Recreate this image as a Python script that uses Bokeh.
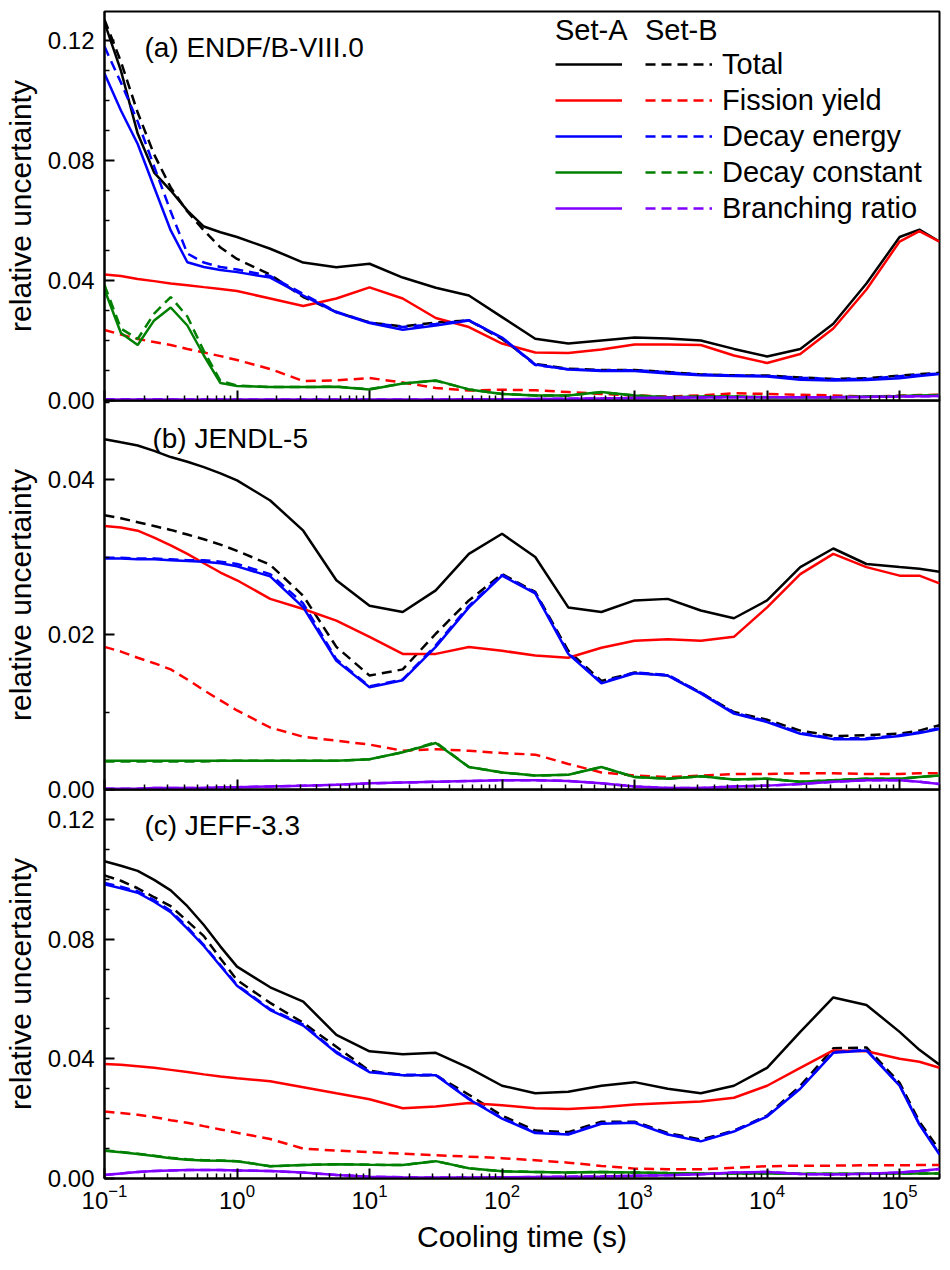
from bokeh.plotting import figure
from bokeh.models import (Range1d, FixedTicker, LogTickFormatter, PrintfTickFormatter,
                          Legend, LegendItem, Label)
from bokeh.layouts import column
from bokeh.embed import file_html
from bokeh.resources import INLINE

FONT = "Liberation Sans"

# ---------------- data ----------------
cooling_time = [0.1, 0.133, 0.178, 0.237, 0.316, 0.422, 0.562, 0.75, 1.0, 1.78, 3.16, 5.62,
                10.0, 17.8, 31.6, 56.2, 100.0, 178.0, 316.0, 562.0, 1000.0, 1780.0, 3160.0,
                5620.0, 1.0e4, 1.78e4, 3.16e4, 5.62e4, 1.0e5, 1.41e5, 2.0e5]

components = ["Total", "Fission yield", "Decay energy", "Decay constant", "Branching ratio"]
colors = ["#000000", "#FF0000", "#0000FF", "#008000", "#8000FF"]

# (a) ENDF/B-VIII.0
a_total_A = [0.126, 0.110, 0.089, 0.076, 0.070, 0.0633, 0.058, 0.0561, 0.0545, 0.0506, 0.046, 0.0444, 0.0456, 0.041, 0.0376, 0.035, 0.0278, 0.0206, 0.019, 0.020, 0.021, 0.0207, 0.020, 0.0172, 0.0147, 0.0172, 0.0256, 0.039, 0.0545, 0.057, 0.053]
a_total_B = [0.127, 0.113, 0.096, 0.082, 0.071, 0.063, 0.0567, 0.051, 0.0472, 0.042, 0.0345, 0.0295, 0.026, 0.0247, 0.026, 0.0267, 0.0205, 0.0122, 0.0106, 0.0102, 0.0102, 0.0095, 0.0087, 0.0084, 0.0083, 0.0077, 0.0072, 0.0074, 0.0083, 0.0088, 0.0092]
a_fy_A = [0.042, 0.0415, 0.0405, 0.0398, 0.039, 0.0384, 0.0378, 0.0372, 0.0365, 0.034, 0.0315, 0.034, 0.0377, 0.034, 0.0275, 0.0245, 0.019, 0.016, 0.0158, 0.017, 0.0187, 0.0187, 0.0185, 0.015, 0.0125, 0.0155, 0.024, 0.037, 0.053, 0.0565, 0.053]
a_fy_B = [0.0235, 0.022, 0.0205, 0.0195, 0.0185, 0.0172, 0.016, 0.0148, 0.0135, 0.0105, 0.0065, 0.0067, 0.0075, 0.006, 0.0042, 0.0033, 0.0036, 0.0034, 0.0028, 0.0022, 0.0017, 0.0013, 0.0017, 0.0024, 0.0022, 0.0019, 0.0017, 0.0013, 0.0016, 0.0018, 0.0019]
a_de_A = [0.109, 0.0967, 0.0855, 0.0711, 0.0567, 0.0461, 0.0445, 0.0435, 0.0428, 0.041, 0.035, 0.0294, 0.0258, 0.0236, 0.025, 0.0267, 0.021, 0.012, 0.0103, 0.0098, 0.0098, 0.009, 0.0084, 0.0082, 0.008, 0.0069, 0.0067, 0.0068, 0.0074, 0.0082, 0.0088]
a_de_B = [0.118, 0.106, 0.093, 0.078, 0.063, 0.049, 0.046, 0.0445, 0.0437, 0.0415, 0.0355, 0.0296, 0.026, 0.0245, 0.0255, 0.0268, 0.0208, 0.0118, 0.0104, 0.0101, 0.0101, 0.0094, 0.0087, 0.0084, 0.0082, 0.0076, 0.0071, 0.0072, 0.0081, 0.0086, 0.009]
a_dc_A = [0.037, 0.0225, 0.0185, 0.0267, 0.031, 0.025, 0.015, 0.0058, 0.0048, 0.0045, 0.0045, 0.0046, 0.0037, 0.0057, 0.0067, 0.0037, 0.0022, 0.0017, 0.0017, 0.0028, 0.0017, 0.0011, 0.0013, 0.0013, 0.0011, 0.0011, 0.0011, 0.0013, 0.0015, 0.0017, 0.0018]
a_dc_B = [0.0385, 0.024, 0.0205, 0.029, 0.0345, 0.028, 0.0165, 0.0065, 0.005, 0.0045, 0.0045, 0.0046, 0.0038, 0.0057, 0.0066, 0.0037, 0.0022, 0.0017, 0.0017, 0.0027, 0.0017, 0.0011, 0.0013, 0.0013, 0.0011, 0.0011, 0.0011, 0.0013, 0.0015, 0.0017, 0.0018]
a_br_A = [0.0003, 0.0003, 0.0003, 0.0003, 0.0003, 0.0003, 0.0003, 0.0003, 0.0003, 0.0003, 0.0003, 0.0003, 0.0003, 0.0003, 0.0003, 0.0004, 0.0004, 0.0005, 0.0006, 0.0007, 0.0008, 0.0009, 0.001, 0.0011, 0.0011, 0.0011, 0.0011, 0.0012, 0.0013, 0.0014, 0.0015]
a_br_B = [0.0004, 0.0004, 0.0004, 0.0004, 0.0004, 0.0003, 0.0003, 0.0003, 0.0003, 0.0003, 0.0003, 0.0003, 0.0003, 0.0003, 0.0003, 0.0004, 0.0004, 0.0005, 0.0006, 0.0007, 0.0008, 0.0009, 0.001, 0.0011, 0.0011, 0.0011, 0.0011, 0.0012, 0.0013, 0.0014, 0.0015]

# (b) JENDL-5
b_total_A = [0.0452, 0.0448, 0.0444, 0.0437, 0.0429, 0.0423, 0.0416, 0.0408, 0.0399, 0.0373, 0.0334, 0.027, 0.0237, 0.0229, 0.0257, 0.0304, 0.033, 0.030, 0.0235, 0.0229, 0.0244, 0.0246, 0.0231, 0.0221, 0.0244, 0.0287, 0.0311, 0.0291, 0.0287, 0.0285, 0.0281]
b_total_B = [0.0354, 0.035, 0.0345, 0.034, 0.0335, 0.0329, 0.0323, 0.0316, 0.0308, 0.029, 0.025, 0.0184, 0.0147, 0.0155, 0.0201, 0.0244, 0.0278, 0.0255, 0.0179, 0.014, 0.0151, 0.0147, 0.0125, 0.010, 0.009, 0.0076, 0.0069, 0.007, 0.0072, 0.0076, 0.0083]
b_fy_A = [0.034, 0.0338, 0.0334, 0.0325, 0.0315, 0.0304, 0.0292, 0.028, 0.027, 0.0246, 0.0233, 0.0218, 0.0197, 0.0175, 0.0175, 0.0184, 0.0179, 0.0173, 0.017, 0.0183, 0.0192, 0.0194, 0.0192, 0.0197, 0.0235, 0.0278, 0.0304, 0.0287, 0.0276, 0.0276, 0.0266]
b_fy_B = [0.0184, 0.0178, 0.017, 0.0163, 0.0155, 0.0142, 0.0128, 0.0115, 0.0102, 0.008, 0.0068, 0.0063, 0.0058, 0.005, 0.0052, 0.005, 0.0047, 0.0045, 0.0033, 0.0022, 0.0018, 0.0016, 0.0018, 0.002, 0.002, 0.0021, 0.0021, 0.002, 0.002, 0.0021, 0.0021]
b_de_A = [0.0298, 0.0298, 0.0297, 0.0297, 0.0296, 0.0295, 0.0294, 0.0292, 0.0288, 0.0275, 0.0235, 0.0166, 0.0132, 0.0141, 0.0184, 0.0235, 0.0276, 0.0253, 0.0175, 0.0137, 0.015, 0.0147, 0.0124, 0.0098, 0.0087, 0.0072, 0.0065, 0.0065, 0.0069, 0.0073, 0.0078]
b_de_B = [0.0299, 0.0299, 0.0298, 0.0298, 0.0297, 0.0296, 0.0296, 0.0294, 0.0291, 0.0278, 0.024, 0.0168, 0.0133, 0.0142, 0.0186, 0.0237, 0.0277, 0.0254, 0.0176, 0.0138, 0.0151, 0.0148, 0.0125, 0.0099, 0.0088, 0.0073, 0.0066, 0.0066, 0.007, 0.0074, 0.0079]
b_dc_A = [0.0037, 0.0037, 0.0037, 0.0037, 0.0037, 0.0037, 0.0037, 0.0037, 0.0037, 0.0037, 0.0037, 0.0037, 0.0039, 0.0048, 0.006, 0.0029, 0.0022, 0.0018, 0.0019, 0.0029, 0.0016, 0.0014, 0.0017, 0.0013, 0.0014, 0.001, 0.0012, 0.0014, 0.0014, 0.0016, 0.0018]
b_dc_B = [0.0036, 0.0036, 0.0036, 0.0036, 0.0036, 0.0036, 0.0036, 0.0037, 0.0037, 0.0037, 0.0037, 0.0037, 0.0039, 0.0048, 0.0061, 0.0029, 0.0022, 0.0018, 0.0019, 0.0029, 0.0016, 0.0014, 0.0017, 0.0013, 0.0014, 0.001, 0.0012, 0.0014, 0.0014, 0.0016, 0.0018]
b_br_A = [0.0001, 0.0001, 0.0001, 0.0002, 0.0002, 0.0002, 0.0002, 0.0003, 0.0003, 0.0004, 0.0005, 0.0006, 0.0008, 0.0009, 0.001, 0.0011, 0.0012, 0.0012, 0.0011, 0.0008, 0.0004, 0.0002, 0.0002, 0.0004, 0.0005, 0.0007, 0.001, 0.0012, 0.0012, 0.001, 0.0007]
b_br_B = [0.0001, 0.0001, 0.0001, 0.0002, 0.0002, 0.0002, 0.0002, 0.0003, 0.0003, 0.0004, 0.0005, 0.0006, 0.0008, 0.0009, 0.001, 0.0011, 0.0012, 0.0012, 0.0011, 0.0008, 0.0004, 0.0002, 0.0002, 0.0004, 0.0005, 0.0007, 0.001, 0.0012, 0.0012, 0.001, 0.0007]

# (c) JEFF-3.3
c_total_A = [0.106, 0.1045, 0.1028, 0.0998, 0.0963, 0.091, 0.0847, 0.0775, 0.0708, 0.0639, 0.0591, 0.048, 0.0425, 0.0415, 0.042, 0.037, 0.031, 0.0285, 0.029, 0.031, 0.0322, 0.030, 0.0285, 0.031, 0.037, 0.049, 0.0605, 0.058, 0.049, 0.043, 0.038]
c_total_B = [0.1013, 0.0995, 0.097, 0.094, 0.091, 0.086, 0.081, 0.0735, 0.0663, 0.0587, 0.052, 0.044, 0.036, 0.0345, 0.0345, 0.028, 0.021, 0.016, 0.0155, 0.019, 0.019, 0.0152, 0.013, 0.016, 0.021, 0.031, 0.0435, 0.0438, 0.032, 0.019, 0.0095]
c_fy_A = [0.0383, 0.038, 0.0375, 0.037, 0.0363, 0.0356, 0.0348, 0.0341, 0.0335, 0.0325, 0.0305, 0.0285, 0.0265, 0.0235, 0.0241, 0.0252, 0.0245, 0.0235, 0.0232, 0.0238, 0.0247, 0.0252, 0.0257, 0.027, 0.031, 0.037, 0.0428, 0.0425, 0.040, 0.039, 0.037]
c_fy_B = [0.0224, 0.0219, 0.0213, 0.0205, 0.0195, 0.0186, 0.0175, 0.0164, 0.0153, 0.0132, 0.010, 0.0093, 0.0088, 0.0083, 0.0078, 0.0073, 0.0068, 0.0061, 0.0053, 0.0042, 0.0033, 0.0031, 0.0031, 0.0036, 0.0041, 0.0043, 0.0043, 0.0044, 0.0044, 0.0045, 0.0045]
c_de_A = [0.0983, 0.097, 0.0955, 0.0925, 0.089, 0.0835, 0.0777, 0.071, 0.0644, 0.0563, 0.0511, 0.042, 0.0355, 0.0345, 0.0345, 0.0265, 0.020, 0.0152, 0.0147, 0.0183, 0.0186, 0.0147, 0.0124, 0.0157, 0.0207, 0.030, 0.042, 0.0428, 0.031, 0.018, 0.008]
c_de_B = [0.0988, 0.0975, 0.096, 0.093, 0.0895, 0.084, 0.078, 0.0713, 0.0647, 0.0566, 0.0514, 0.0423, 0.0357, 0.0347, 0.0347, 0.0267, 0.0202, 0.0154, 0.0149, 0.0185, 0.0188, 0.0149, 0.0126, 0.0159, 0.0209, 0.0302, 0.0422, 0.043, 0.0312, 0.0182, 0.0082]
c_dc_A = [0.0093, 0.0088, 0.0082, 0.0075, 0.0068, 0.0063, 0.006, 0.0059, 0.0058, 0.0041, 0.0045, 0.0048, 0.0046, 0.0045, 0.0058, 0.0034, 0.0024, 0.0022, 0.002, 0.0022, 0.002, 0.0018, 0.0017, 0.0017, 0.0017, 0.0016, 0.0016, 0.0016, 0.0017, 0.0017, 0.0017]
c_dc_B = [0.0094, 0.0089, 0.0083, 0.0076, 0.0069, 0.0064, 0.0061, 0.006, 0.0058, 0.0041, 0.0045, 0.0048, 0.0046, 0.0045, 0.0058, 0.0034, 0.0024, 0.0022, 0.002, 0.0022, 0.002, 0.0018, 0.0017, 0.0017, 0.0017, 0.0016, 0.0016, 0.0016, 0.0017, 0.0017, 0.0017]
c_br_A = [0.0012, 0.0017, 0.0022, 0.0025, 0.0027, 0.0028, 0.0028, 0.0028, 0.0027, 0.0025, 0.002, 0.0012, 0.0006, 0.0004, 0.0003, 0.0003, 0.0004, 0.0005, 0.0006, 0.0007, 0.0009, 0.0011, 0.0014, 0.002, 0.0022, 0.0015, 0.0013, 0.0016, 0.002, 0.0025, 0.0032]
c_br_B = [0.0012, 0.0017, 0.0022, 0.0025, 0.0027, 0.0028, 0.0028, 0.0028, 0.0027, 0.0025, 0.002, 0.0012, 0.0006, 0.0004, 0.0003, 0.0003, 0.0004, 0.0005, 0.0006, 0.0007, 0.0009, 0.0011, 0.0014, 0.002, 0.0022, 0.0015, 0.0013, 0.0016, 0.002, 0.0025, 0.0032]

x_major = [0.1, 1, 10, 100, 1e3, 1e4, 1e5]
x_minor = [m * d for d in x_major for m in range(2, 10) if m * d <= 2.0e5]

x_range = Range1d(0.1, 2.0e5)
OVERLAP = 12


def style_axis(ax, label_size="24px"):
    ax.axis_line_color = "black"
    ax.axis_line_width = 2
    ax.major_tick_line_color = "black"
    ax.major_tick_line_width = 2
    ax.minor_tick_line_color = "black"
    ax.minor_tick_line_width = 1.5
    ax.major_tick_in = 10
    ax.major_tick_out = 0
    ax.minor_tick_in = 5
    ax.minor_tick_out = 0
    ax.major_label_text_font = FONT
    ax.major_label_text_font_size = label_size
    ax.major_label_text_color = "black"
    ax.axis_label_text_font = FONT
    ax.axis_label_text_font_size = "30px"
    ax.axis_label_text_font_style = "normal"
    ax.axis_label_text_color = "black"


def make_panel(series_A, series_B, ymax, y_major, y_minor, title, title_x, title_y,
               top, bottom, last, shift, zindex):
    kw = {}
    if shift:
        kw["margin"] = (-OVERLAP, 0, 0, 0)
    p = figure(x_axis_type="log", x_range=x_range, y_range=Range1d(0, ymax),
               frame_width=835, frame_height=389,
               min_border_left=102, min_border_right=13,
               min_border_top=top, min_border_bottom=bottom,
               output_backend="svg", toolbar_location=None,
               styles={"position": "relative", "z-index": str(zindex)}, **kw)
    p.xgrid.visible = False
    p.ygrid.visible = False
    p.outline_line_color = "black"
    p.outline_line_width = 2
    p.background_fill_color = "white"
    p.border_fill_alpha = 0

    yax = p.yaxis[0]
    style_axis(yax)
    yax.ticker = FixedTicker(ticks=y_major, minor_ticks=y_minor)
    yax.formatter = PrintfTickFormatter(format="%.2f")
    yax.axis_label = "relative uncertainty"
    yax.major_label_standoff = 10
    yax.axis_label_standoff = 8

    xax = p.xaxis[0]
    xax.ticker = FixedTicker(ticks=x_major, minor_ticks=x_minor)
    if last:
        xax.formatter = LogTickFormatter()
        style_axis(xax)
        xax.axis_label = "Cooling time (s)"
        xax.major_label_standoff = 5
        xax.axis_label_standoff = 8
    else:
        style_axis(xax, label_size="1px")
        xax.major_label_overrides = {t: "" for t in x_major}
        xax.major_label_standoff = 0

    rA, rB = [], []
    for ya, yb, col in zip(series_A, series_B, colors):
        ra = p.line(cooling_time, ya, line_color=col, line_width=2.5)
        rb = p.line(cooling_time, yb, line_color=col, line_width=2.5, line_dash="10 6")
        rA.append(ra)
        rB.append(rb)

    p.add_layout(Label(x=title_x, y=title_y, text=title, text_font=FONT,
                       text_font_size="28px", text_color="black",
                       text_baseline="alphabetic"))
    return p, rA, rB


pa, rA, rB = make_panel([a_total_A, a_fy_A, a_de_A, a_dc_A, a_br_A],
                        [a_total_B, a_fy_B, a_de_B, a_dc_B, a_br_B],
                        0.1297, [0.0, 0.04, 0.08, 0.12],
                        [0.01, 0.02, 0.03, 0.05, 0.06, 0.07, 0.09, 0.10, 0.11],
                        "(a) ENDF/B-VIII.0", 0.2, 0.1176, 11, OVERLAP, False, False, 3)
pb, _, _ = make_panel([b_total_A, b_fy_A, b_de_A, b_dc_A, b_br_A],
                      [b_total_B, b_fy_B, b_de_B, b_dc_B, b_br_B],
                      0.0502, [0.0, 0.02, 0.04], [0.01, 0.03, 0.05],
                      "(b) JENDL-5", 0.23, 0.0453, 0, OVERLAP, False, True, 2)
pc, _, _ = make_panel([c_total_A, c_fy_A, c_de_A, c_dc_A, c_br_A],
                      [c_total_B, c_fy_B, c_de_B, c_dc_B, c_br_B],
                      0.13, [0.0, 0.04, 0.08, 0.12],
                      [0.01, 0.02, 0.03, 0.05, 0.06, 0.07, 0.09, 0.10, 0.11],
                      "(c) JEFF-3.3", 0.2, 0.118, 0, 92, True, True, 1)


def legend_style(leg):
    leg.background_fill_alpha = 0
    leg.border_line_alpha = 0
    leg.padding = 0
    leg.margin = 0
    leg.spacing = 2
    leg.glyph_width = 67
    leg.glyph_height = 34
    leg.label_standoff = 10
    leg.label_text_font = FONT
    leg.label_text_font_size = "29px"
    leg.label_text_color = "black"
    leg.title_text_font = FONT
    leg.title_text_font_size = "29px"
    leg.title_text_font_style = "normal"
    leg.title_text_color = "black"
    leg.title_standoff = 0


legA = Legend(items=[LegendItem(label=" ", renderers=[r]) for r in rA],
              title="Set-A", location=(451, 175))
legB = Legend(items=[LegendItem(label=c, renderers=[r]) for c, r in zip(components, rB)],
              title="Set-B", location=(541, 175))
legend_style(legA)
legend_style(legB)
pa.add_layout(legA)
pa.add_layout(legB)

layout = column(pa, pb, pc, spacing=0)

with open("out.html", "w") as f:
    f.write(file_html(layout, INLINE))
